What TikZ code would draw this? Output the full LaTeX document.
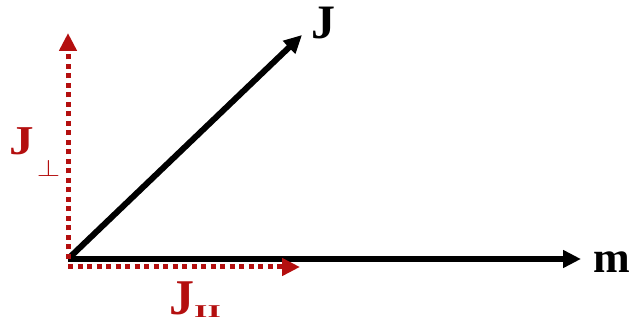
\documentclass[tikz,border=0pt]{standalone}
\usepackage{fontspec}
\setmainfont{Liberation Serif}
\usetikzlibrary{positioning, arrows.meta}
\definecolor{projRed}{HTML}{B40F0F}

\begin{document}
\begin{tikzpicture}[x=1pt, y=1pt,
  vec/.style={line width=6pt, -{Triangle[length=18pt, width=17pt]}},
  proj/.style={projRed, line width=5pt, dash pattern=on 5pt off 4.5pt, -{Triangle[length=18pt, width=17pt]}},
  lbl/.style={anchor=base west, inner sep=0pt, text height=0.68em, text depth=0.04em, font=\fontsize{50}{50}\selectfont\bfseries}]
\useasboundingbox (0,0) rectangle (629,332);
\coordinate (origin) at (68,73);
\coordinate (jtip) at (302,297);
\coordinate (mtip) at (581,73);
\coordinate (parstart) at (68,65);
\coordinate (partip) at (300,65);
\coordinate (perptip) at (68,299);
% vectors
\draw[vec] (origin) -- (jtip);
\draw[vec] (origin) -- (mtip);
\draw[proj] (origin) -- (perptip);
\draw[proj] (parstart) -- (partip);
% labels
\node[lbl, font=\fontsize{48}{48}\selectfont\bfseries] (jlab) at (311,293) {J};
\node[lbl, font=\fontsize{44}{44}\selectfont\bfseries] (mlab) at (593,59) {m};
\node[lbl, projRed, font=\fontsize{41}{41}\selectfont\bfseries] (perplab) at (9,177)
  {\scalebox{1.2}[1]{J}\hspace{3pt}\raisebox{-22pt}{\fontsize{10}{10}\selectfont\scalebox{3}[2.4]{$\perp$}}};
\node[lbl, projRed] (parlab) at (169,17)
  {J\raisebox{-3pt}{\fontsize{18}{18}\selectfont\bfseries\scalebox{1.9}[1]{II}}};
\end{tikzpicture}
\end{document}
